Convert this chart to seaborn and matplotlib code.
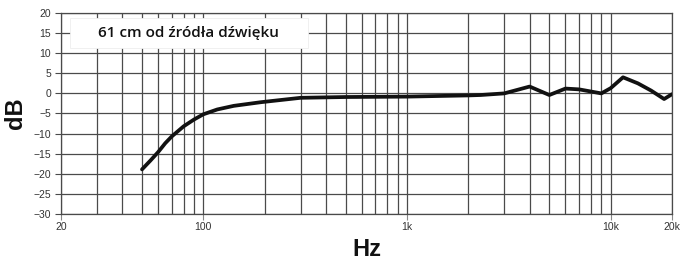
import numpy as np
import pandas as pd
import matplotlib
matplotlib.use("Agg")
import matplotlib.pyplot as plt
from matplotlib.patches import Rectangle
from matplotlib.ticker import FixedLocator, NullFormatter
import seaborn as sns

freq_hz = [50, 55, 60, 65, 70, 80, 90, 100, 117, 141, 191, 300, 500, 1000,
           2000, 2300, 3000, 4000, 5000, 6000, 7000, 9000, 10000, 11500,
           13600, 15800, 18300, 20000]
level_db = [-18.9, -16.7, -14.6, -12.4, -10.7, -8.2, -6.5, -5.2, -4.0, -3.1,
            -2.2, -1.1, -0.9, -0.8, -0.5, -0.4, 0.0, 1.7, -0.4, 1.2, 1.0, 0.0,
            1.3, 4.0, 2.5, 0.7, -1.4, -0.2]

x_ticks = [20, 100, 1000, 10000, 20000]
x_labels = ["20", "100", "1k", "10k", "20k"]
y_ticks = list(range(-30, 25, 5))
grid_freqs = [30, 40, 50, 60, 70, 80, 90,
              200, 300, 400, 500, 600, 700, 800, 900,
              2000, 3000, 4000, 5000, 6000, 7000, 8000, 9000]
label_text = "61 cm od źródła dźwięku"

df = pd.DataFrame({"Hz": freq_hz, "dB": level_db})

sns.set_style("white")
plt.rcParams["font.family"] = ["Liberation Sans", "DejaVu Sans"]

fig = plt.figure(figsize=(6.82, 2.63), dpi=100)
ax = fig.add_axes([0.0894, 0.1863, 0.8959, 0.7643])

grid_col = "#4a4a4a"
ax.set_xscale("log")
ax.set_xlim(20, 20000)
ax.set_ylim(-30, 20)

ax.xaxis.set_major_locator(FixedLocator(x_ticks))
ax.set_xticklabels(x_labels)
ax.xaxis.set_minor_locator(FixedLocator(grid_freqs))
ax.xaxis.set_minor_formatter(NullFormatter())
ax.set_yticks(y_ticks)

ax.grid(True, which="both", axis="both", color=grid_col, linewidth=0.9)
ax.set_axisbelow(True)

# biały prostokąt z opisem
ax.add_patch(Rectangle((0.0147, 0.826), 0.389, 0.149, transform=ax.transAxes,
                       facecolor="white", edgecolor="#eeeeee", linewidth=0.6,
                       zorder=2))
ax.text(0.209, 0.902, label_text, transform=ax.transAxes, ha="center",
        va="center", fontsize=11, fontweight="semibold", color="#111111",
        zorder=3, family=["Open Sans", "DejaVu Sans"])

sns.lineplot(data=df, x="Hz", y="dB", ax=ax, color="#111111", linewidth=2.7,
             zorder=4)

for side in ["top", "right", "bottom", "left"]:
    ax.spines[side].set_visible(True)
    ax.spines[side].set_color(grid_col)
    ax.spines[side].set_linewidth(0.9)

ax.tick_params(axis="y", which="major", direction="out", length=4, width=0.8,
               color=grid_col, labelsize=7.5, labelcolor="#333333", pad=3,
               left=True)
ax.tick_params(axis="x", which="major", direction="out", length=4, width=0.8,
               color="#888888", labelsize=7.5, labelcolor="#333333", pad=2,
               bottom=True)
ax.tick_params(axis="x", which="minor", length=0)

ax.set_xlabel("Hz", fontsize=17, fontweight="bold", color="#111111",
              labelpad=4)
ax.set_ylabel("dB", fontsize=17, fontweight="bold", color="#111111",
              labelpad=5)

fig.savefig("out.png", dpi=100)
